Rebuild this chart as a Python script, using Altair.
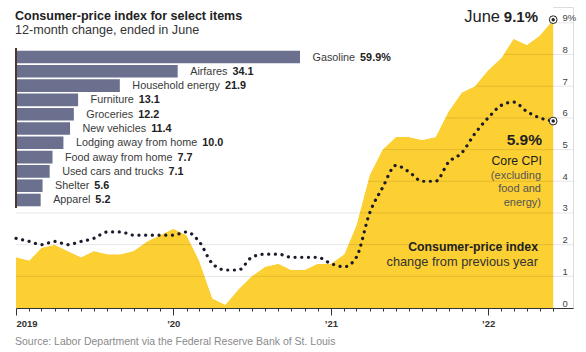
import altair as alt
import pandas as pd

# ---------------- data ----------------
months = pd.date_range("2019-01-01", "2022-06-01", freq="MS").strftime("%Y-%m-%d").tolist()
cpi = [1.6, 1.5, 1.9, 2.0, 1.8, 1.6, 1.8, 1.7, 1.7, 1.8, 2.1, 2.3,
       2.5, 2.3, 1.5, 0.3, 0.1, 0.6, 1.0, 1.3, 1.4, 1.2, 1.2, 1.4,
       1.4, 1.7, 2.6, 4.2, 5.0, 5.4, 5.4, 5.3, 5.4, 6.2, 6.8, 7.0,
       7.5, 7.9, 8.5, 8.3, 8.6, 9.1]
core = [2.2, 2.1, 2.0, 2.1, 2.0, 2.1, 2.2, 2.4, 2.4, 2.3, 2.3, 2.3,
        2.3, 2.4, 2.1, 1.4, 1.2, 1.2, 1.6, 1.7, 1.7, 1.6, 1.6, 1.6,
        1.4, 1.3, 1.6, 3.0, 3.8, 4.5, 4.3, 4.0, 4.0, 4.6, 4.9, 5.5,
        6.0, 6.4, 6.5, 6.2, 6.0, 5.9]
items = ["Gasoline", "Airfares", "Household energy", "Furniture", "Groceries",
         "New vehicles", "Lodging away from home", "Food away from home",
         "Used cars and trucks", "Shelter", "Apparel"]
changes = [59.9, 34.1, 21.9, 13.1, 12.2, 11.4, 10.0, 7.7, 7.1, 5.6, 5.2]
y_ticks = [0, 1, 2, 3, 4, 5, 6, 7, 8, 9]

# ---------------- style ----------------
YELLOW = "#fccf33"
BAR = "#6b708f"
INK = "#222222"
SANS = "Liberation Sans, Arial, sans-serif"
W, H = 557, 301

# approximate glyph widths (per 1000 em, Arial metrics) used to place bold values after names
CW = {" ": 278, "a": 556, "b": 556, "c": 500, "d": 556, "e": 556, "f": 278, "g": 556,
      "h": 556, "i": 222, "j": 222, "k": 500, "l": 222, "m": 833, "n": 556, "o": 556,
      "p": 556, "q": 556, "r": 333, "s": 500, "t": 278, "u": 556, "v": 500, "w": 722,
      "x": 500, "y": 500, "z": 500, "A": 667, "F": 611, "G": 778, "H": 722, "L": 556,
      "N": 722, "S": 667, "U": 722}
NAME_SIZE = 10.8
def text_w(s):
    return sum(CW.get(c, 556) for c in s) * NAME_SIZE / 1000.0

def dt(y, m, d=1):
    return alt.DateTime(year=y, month=m, date=d, utc=True)

df = pd.DataFrame({"date": months, "cpi": cpi, "core": core})

x_scale = alt.Scale(type="utc", domain=[dt(2019, 1), dt(2022, 7, 17)])
y_scale = alt.Scale(domain=[0, 9.5], nice=False, zero=True)
tick_values = [dt(2019 + i // 12, i % 12 + 1) for i in range(len(months))]

x_axis = alt.Axis(
    values=tick_values,
    labelExpr="utcmonth(datum.value) == 0 ? (utcyear(datum.value) == 2019 ? '2019' : '\u2019' + utcFormat(datum.value, '%y')) : ''",
    tickSize={"condition": {"test": "utcmonth(datum.value) == 0", "value": 7}, "value": 3},
    labelAlign={"condition": {"test": "utcyear(datum.value) == 2019", "value": "left"}, "value": "center"},
    labelOverlap=False, labelBound=False, labelFlush=False,
    labelFont=SANS, labelFontSize=9.5, labelFontWeight="bold", labelColor="#333",
    labelPadding=3, domainColor="#333", tickColor="#333", domainWidth=1.2, tickWidth=1,
    grid=False, title=None, zindex=1,
)
y_axis = alt.Axis(
    orient="right", values=y_ticks, domain=False, ticks=False, grid=False, title=None,
    labelExpr="datum.value == 9 ? '9%' : datum.label",
    labelAlign="left", labelBaseline="alphabetic", labelOffset=-2, labelPadding=-11,
    labelFont=SANS, labelFontSize=9.5, labelColor="#444", zindex=1,
)

X = alt.X("date:T", scale=x_scale, axis=x_axis)
def Y(field):
    return alt.Y(field, scale=y_scale, axis=y_axis)

area = alt.Chart(df).mark_area(color=YELLOW).encode(x=X, y=Y("cpi:Q"))

grid_df = pd.DataFrame({"v": y_ticks})
grid_hi = alt.Chart(grid_df).transform_filter("datum.v >= 4").mark_rule(
    color="#000", opacity=0.1, strokeWidth=1).encode(
    y=Y("v:Q"), x=alt.value(0), x2=alt.value(W))

mask = alt.Chart(df).mark_area(color="white").encode(x=X, y=Y("cpi:Q"), y2=alt.datum(9.5))

grid_lo = alt.Chart(grid_df).transform_filter("datum.v >= 1 && datum.v <= 3").mark_rule(
    color="#000", opacity=0.1, strokeWidth=1).encode(
    y=Y("v:Q"), x=alt.value(0), x2=alt.value(W))

core_line = alt.Chart(df).mark_line(
    color="#1b1b2b", strokeWidth=3.2, strokeDash=[0.1, 6.6], strokeCap="round",
    interpolate="monotone").encode(x=X, y=Y("core:Q"))

end_df = pd.DataFrame({"date": [months[-1], months[-1]], "v": [cpi[-1], core[-1]]})
ring = alt.Chart(end_df).mark_point(shape="circle", filled=True, fill="white",
                                    stroke="#222", strokeWidth=1, size=60, opacity=1).encode(
    x=X, y=Y("v:Q"))
dot = alt.Chart(end_df).mark_point(shape="circle", filled=True, color="#222", size=12, opacity=1).encode(
    x=X, y=Y("v:Q"))


def label(text, x, y, size, weight="normal", color=INK, align="left"):
    return alt.Chart(pd.DataFrame({"t": [text]})).mark_text(
        align=align, baseline="alphabetic", fontSize=size, fontWeight=weight,
        color=color, font=SANS).encode(x=alt.value(x), y=alt.value(y), text="t:N")

texts = [
    label("Consumer-price index for select items", -1, 12.5, 12.5, "bold"),
    label("12-month change, ended in June", -1, 26.5, 12.6, color="#333"),
    label("June", 484, 14.7, 16.5, align="right"),
    label("9.1%", 522, 14.7, 15, "bold", align="right"),
    label("5.9%", 526, 138, 15.5, "bold", align="right"),
    label("Core CPI", 526, 158, 12.3, align="right"),
    label("(excluding", 525, 171.5, 11, color="#555", align="right"),
    label("food and", 525, 185, 11, color="#555", align="right"),
    label("energy)", 525, 198.5, 11, color="#555", align="right"),
    label("Consumer-price index", 522, 244, 12.3, "bold", align="right"),
    label("change from previous year", 522, 258.7, 12.8, color="#333", align="right"),
    label("Source: Labor Department via the Federal Reserve Bank of St. Louis", -1, 338, 10.5, color="#8a8a8a"),
]

cpi_layer = alt.layer(area, grid_hi, mask, grid_lo, core_line, ring, dot, *texts)

# ---------------- inset bar chart ----------------
PX_MAX = 284.0
ppu = PX_MAX / max(changes)
bdf = pd.DataFrame({"item": items, "val": changes})
bdf["lab"] = [f"{v:.1f}%" if i == 0 else f"{v:.1f}" for i, v in enumerate(changes)]
bdf["vx"] = [v + (text_w(n) + 5.0) / ppu for n, v in zip(items, changes)]

bx = alt.Scale(domain=[0, max(changes)], range=[0, PX_MAX])
by = alt.Scale(domain=items, range=[43, 200], paddingInner=0.12, paddingOuter=0.05)
BX = lambda f: alt.X(f, scale=bx, axis=None)
BY = alt.Y("item:N", scale=by, axis=None)

bars = alt.Chart(bdf).mark_bar(color=BAR).encode(x=BX("val:Q"), y=BY)
bar_axis = alt.Chart(bdf).mark_rule(color="#4a3b2e", strokeWidth=1.5).encode(
    x=alt.value(0), y=alt.value(41), y2=alt.value(200.5))
names = alt.Chart(bdf).mark_text(align="left", baseline="middle", dx=12.5, dy=0.5,
                                 font=SANS, fontSize=NAME_SIZE, color="#3a3a3a").encode(
    x=BX("val:Q"), y=BY, text="item:N")
vals = alt.Chart(bdf).mark_text(align="left", baseline="middle", dx=12.5, dy=0.5,
                                font=SANS, fontSize=NAME_SIZE, fontWeight="bold", color="#222").encode(
    x=BX("vx:Q"), y=BY, text="lab:N")
bar_layer = alt.layer(bars, bar_axis, names, vals)

chart = alt.layer(cpi_layer, bar_layer).resolve_scale(x="independent", y="independent").properties(
    width=W, height=H,
    autosize=alt.AutoSizeParams(type="none"),
    padding={"left": 16, "top": 7, "right": 13, "bottom": 44},
).configure_view(stroke=None).configure(background="white")

chart.save("out.html", embed_options={"renderer": "svg", "actions": False})
